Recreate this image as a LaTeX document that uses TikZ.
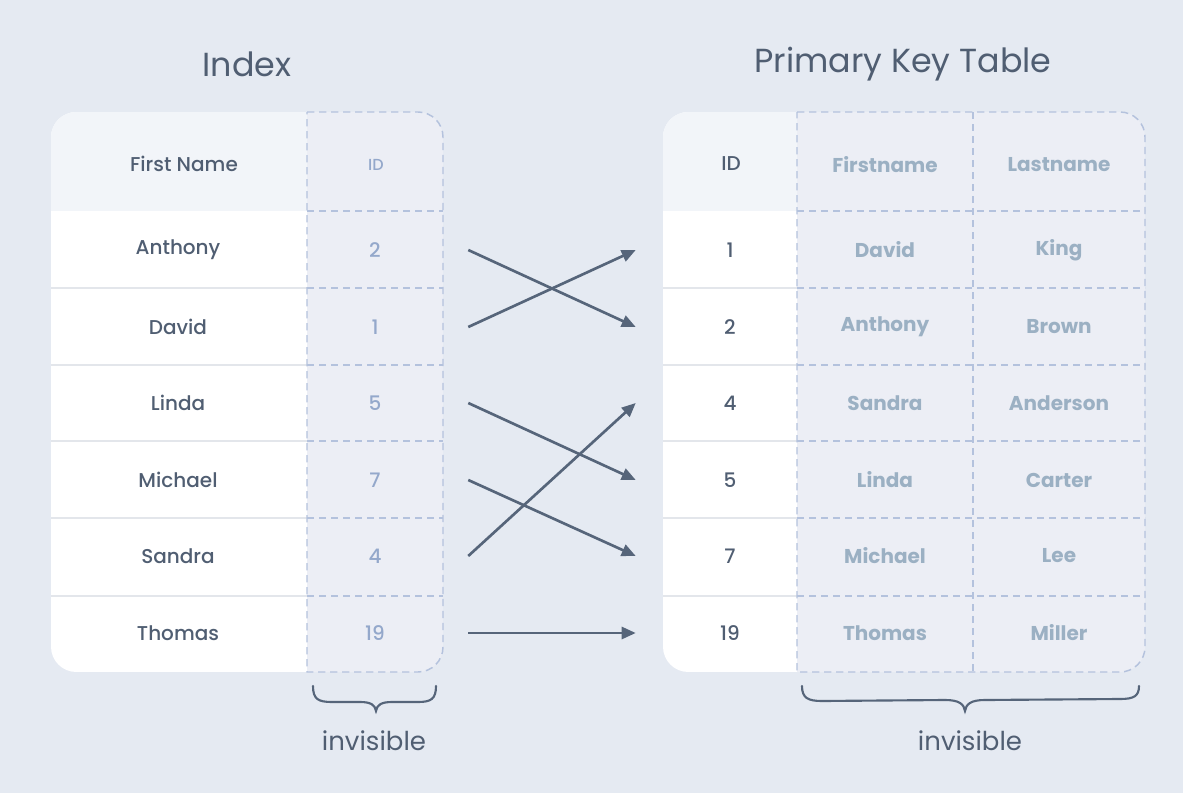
\documentclass[tikz,border=0pt]{standalone}
\usepackage{fontspec}
\setmainfont{Poppins}
\newfontfamily\medfont{Poppins Medium}
\usetikzlibrary{arrows.meta}
\definecolor{bg}{HTML}{E5EAF2}
\definecolor{headc}{HTML}{F2F5F9}
\definecolor{idfill}{HTML}{ECEEF5}
\definecolor{dashc}{HTML}{B4C2DD}
\definecolor{sepc}{HTML}{E3E6EB}
\definecolor{darkc}{HTML}{505E72}
\definecolor{lidc}{HTML}{94A8CB}
\definecolor{ghostc}{HTML}{9BB0C3}
\definecolor{arrc}{HTML}{56657A}
\tikzset{
  title/.style={text=darkc, font=\fontsize{25}{28}\selectfont, inner sep=0},
  cell/.style={text=darkc, font=\medfont\fontsize{15}{18}\selectfont, inner sep=0},
  lidcell/.style={text=lidc, font=\medfont\fontsize{15}{18}\selectfont, inner sep=0, minimum width=102pt},
  lidhead/.style={text=lidc, font=\medfont\fontsize{12}{14}\selectfont, inner sep=0},
  ridcell/.style={text=darkc, font=\medfont\fontsize{15}{18}\selectfont, inner sep=0, minimum width=100.5pt},
  ghost/.style={text=ghostc, font=\bfseries\fontsize{15}{18}\selectfont, inner sep=0},
  dashline/.style={draw=dashc, line width=1.1pt, dash pattern=on 5.5pt off 3.5pt},
  sepline/.style={draw=sepc, line width=1pt},
  arr/.style={draw=arrc, line width=2pt, -{Triangle[length=10.5pt,width=9pt]}},
  bracec/.style={draw=arrc, line width=1.6pt, line cap=round},
  note/.style={text=darkc, font=\fontsize{19.5}{22}\selectfont, inner sep=0}
}
\begin{document}
\begin{tikzpicture}[x=0.75pt,y=-0.75pt]
\useasboundingbox (0,0) rectangle (1183,793);
\fill[bg] (0,0) rectangle (1183,793);

% titles
\node[title] (t1) at (247,64) {Index};
\node[title] (t2) at (903,64) {Primary Key Table};

% ---------- left table ----------
\begin{scope}
  \clip[rounded corners=19pt] (51,112) rectangle (380,672);
  \fill[white] (51,112) rectangle (380,672);
  \fill[headc] (51,112) rectangle (307,211);
\end{scope}
\foreach \y in {288,365,441,518,596} \draw[sepline] (51,\y) -- (307,\y);
\path[fill=idfill, dashline] (307,112) -- (418,112) .. controls (431.8,112) and (443,123.2) .. (443,137)
  -- (443,647) .. controls (443,660.8) and (431.8,672) .. (418,672) -- (307,672) -- cycle;
\foreach \y in {211,288,365,441,518,596} \draw[dashline] (307,\y) -- (443,\y);

% ---------- right table ----------
\begin{scope}
  \clip[rounded corners=19pt] (663,112) rectangle (840,672);
  \fill[white] (663,112) rectangle (840,672);
  \fill[headc] (663,112) rectangle (797,211);
\end{scope}
\foreach \y in {288,365,441,518,596} \draw[sepline] (663,\y) -- (797,\y);
\path[fill=idfill, dashline] (797,112) -- (1120,112) .. controls (1133.8,112) and (1145,123.2) .. (1145,137)
  -- (1145,647) .. controls (1145,660.8) and (1133.8,672) .. (1120,672) -- (797,672) -- cycle;
\foreach \y in {211,288,365,441,518,596} \draw[dashline] (797,\y) -- (1145,\y);
\draw[dashline] (973,112) -- (973,672);

% ---------- left texts ----------
\node[cell] (hfn) at (184,164) {First Name};
\node[lidhead] (hid) at (376,165) {ID};
\node[cell] (nA) at (178,250) {Anthony};
\node[cell] (nD) at (178,327) {David};
\node[cell] (nL) at (178,403) {Linda};
\node[cell] (nM) at (178,480) {Michael};
\node[cell] (nS) at (178,556) {Sandra};
\node[cell] (nT) at (178,633) {Thomas};
\node[lidcell] (l2) at (375,250) {2};
\node[lidcell] (l1) at (375,327) {1};
\node[lidcell] (l5) at (375,403) {5};
\node[lidcell] (l7) at (375,480) {7};
\node[lidcell] (l4) at (375,556) {4};
\node[lidcell] (l19) at (375,633) {19};

% ---------- right texts ----------
\node[cell] (rid) at (731,164) {ID};
\node[ghost] (rfn) at (885,165) {Firstname};
\node[ghost] (rln) at (1059,165) {Lastname};
\node[ridcell] (r1) at (730,250) {1};
\node[ridcell] (r2) at (730,327) {2};
\node[ridcell] (r4) at (730,403) {4};
\node[ridcell] (r5) at (730,480) {5};
\node[ridcell] (r7) at (730,556) {7};
\node[ridcell] (r19) at (730,633) {19};
\node[ghost] (f1) at (885,250) {David};
\node[ghost] (f2) at (885,327) {Anthony};
\node[ghost] (f4) at (885,403) {Sandra};
\node[ghost] (f5) at (885,480) {Linda};
\node[ghost] (f7) at (885,556) {Michael};
\node[ghost] (f19) at (885,633) {Thomas};
\node[ghost] (s1) at (1059,250) {King};
\node[ghost] (s2) at (1059,327) {Brown};
\node[ghost] (s4) at (1059,403) {Anderson};
\node[ghost] (s5) at (1059,480) {Carter};
\node[ghost] (s7) at (1059,556) {Lee};
\node[ghost] (s19) at (1059,633) {Miller};

% ---------- arrows ----------
\draw[arr] ([xshift=18.75pt]l2.east) -- ([xshift=-20.25pt]r2.west);
\draw[arr] ([xshift=18.75pt]l1.east) -- ([xshift=-20.25pt]r1.west);
\draw[arr] ([xshift=18.75pt]l5.east) -- ([xshift=-20.25pt]r5.west);
\draw[arr] ([xshift=18.75pt]l7.east) -- ([xshift=-20.25pt]r7.west);
\draw[arr] ([xshift=18.75pt]l4.east) -- ([xshift=-20.25pt]r4.west);
\draw[arr] ([xshift=18.75pt]l19.east) -- ([xshift=-20.25pt]r19.west);

% ---------- braces ----------
\draw[bracec] (313,686) .. controls (313,699) and (318,702) .. (332,702) -- (360,702)
  .. controls (371,702) and (375,705) .. (376,711)
  .. controls (377,705) and (381,702) .. (392,702) -- (418,702)
  .. controls (431,702) and (436,699) .. (436,686);
\draw[bracec] (802,686) .. controls (802,698) and (808,701) .. (822,701) -- (945,700)
  .. controls (959,700) and (964,704) .. (965,711)
  .. controls (966,704) and (971,700) .. (985,700) -- (1120,699)
  .. controls (1134,699) and (1139,696) .. (1139,686);
\node[note] (inv1) at (374,741) {invisible};
\node[note] (inv2) at (970,741) {invisible};
\end{tikzpicture}
\end{document}
